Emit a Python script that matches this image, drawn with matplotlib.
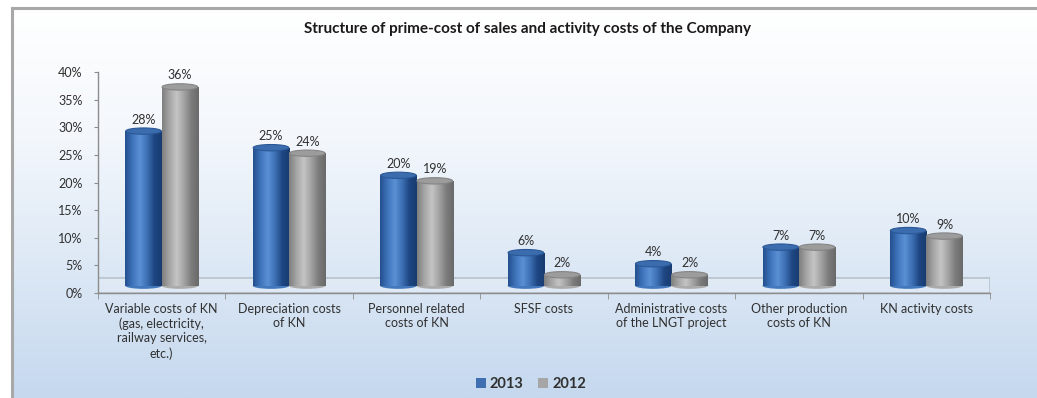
"""Structure of prime-cost of sales and activity costs — cylinder-style bar chart."""
import numpy as np
import matplotlib
matplotlib.use("Agg")
import matplotlib.pyplot as plt
from matplotlib.patches import Ellipse, Rectangle, Patch
from matplotlib.lines import Line2D
from matplotlib.colors import LinearSegmentedColormap

plt.rcParams["font.family"] = ["Lato", "DejaVu Sans"]

# ---------------------------------------------------------------- data
categories = [
    "Variable costs of KN\n(gas, electricity,\nrailway services,\netc.)",
    "Depreciation costs\nof KN",
    "Personnel related\ncosts of KN",
    "SFSF costs",
    "Administrative costs\nof the LNGT project",
    "Other production\ncosts of KN",
    "KN activity costs",
]
series_names = ["2013", "2012"]
values_2013 = [28, 25, 20, 6, 4, 7, 10]
values_2012 = [36, 24, 19, 2, 2, 7, 9]
yticks = [0, 5, 10, 15, 20, 25, 30, 35, 40]

# ---------------------------------------------------------------- style
W, H = 1037, 398
BASE = 1.3          # bars stand on the 3-D floor
FLOOR = 2.7
BAR_W = 0.285
TXT = "#303030"
blue_cmap = LinearSegmentedColormap.from_list(
    "cyl_blue", ["#24508f", "#3f74bb", "#5a90d4", "#3d70b4", "#1e4682", "#193c70"])
gray_cmap = LinearSegmentedColormap.from_list(
    "cyl_gray", ["#7f7f7f", "#a6a6a6", "#c4c4c4", "#a3a3a3", "#7c7c7c", "#6a6a6a"])
top_cols = {"2013": ("#3b6cae", "#2b5896"), "2012": ("#9c9c9c", "#858585")}
legend_cols = {"2013": "#3f6fb0", "2012": "#a6a6a6"}

fig = plt.figure(figsize=(W / 100, H / 100), dpi=100)
fig.patch.set_facecolor("white")

# background gradient inside the frame
bg = fig.add_axes([12 / W, 0, 1 - 12 / W, 1 - 9 / H])
bg.axis("off")
grad = np.linspace(0, 1, 256).reshape(-1, 1)
bg_cmap = LinearSegmentedColormap.from_list("bg", ["#ffffff", "#f3f7fc", "#dce8f5", "#c5d8ee"])
bg.imshow(grad, aspect="auto", cmap=bg_cmap, extent=[0, 1, 0, 1], origin="upper")
bg.set_xlim(0, 1)
bg.set_ylim(0, 1)

# frame lines (left + top)
fig.add_artist(Line2D([11.5 / W, 11.5 / W], [0, 1 - 8 / H], color="#a8a8a8", lw=2.2))
fig.add_artist(Line2D([11.5 / W, 1], [1 - 8 / H, 1 - 8 / H], color="#a8a8a8", lw=2.2))

ax = fig.add_axes([98 / W, 1 - 293 / H, (990 - 98) / W, (293 - 72) / H])
ax.set_facecolor("none")

x = np.arange(len(categories))
# floor of the 3-D plot
ax.add_patch(Rectangle((-0.5, 0), len(categories), FLOOR, facecolor="#e4edf7",
                       edgecolor="#9aa3ad", lw=1.1, alpha=0.6, zorder=1))

grad_h = np.linspace(0, 1, 64).reshape(1, -1)
for i, (name, vals, cmap) in enumerate([("2013", values_2013, blue_cmap),
                                         ("2012", values_2012, gray_cmap)]):
    offs = x - BAR_W / 2 + i * BAR_W
    bars = ax.bar(offs, vals, BAR_W, bottom=BASE, color=legend_cols[name],
                  linewidth=0, zorder=3)
    for b, v in zip(bars, vals):
        x0, w = b.get_x(), b.get_width()
        y0, h = b.get_y(), b.get_height()
        # bottom rounded edge
        ax.add_patch(Ellipse((x0 + w / 2, y0), w, 1.1, facecolor=cmap(0.55), lw=0, zorder=2.5))
        im = ax.imshow(grad_h, cmap=cmap, aspect="auto", extent=[x0, x0 + w, y0, y0 + h],
                       zorder=3.5, interpolation="bilinear")
        im.set_clip_path(b)
        # top cap
        fc, ec = top_cols[name]
        ax.add_patch(Ellipse((x0 + w / 2, y0 + h), w * 0.98, 1.15, facecolor=fc,
                             edgecolor=ec, lw=0.8, zorder=4))
        ax.annotate(f"{v}%", (x0 + w / 2, y0 + h), xytext=(0, 4), textcoords="offset points",
                    ha="center", va="bottom", fontsize=9, color=TXT, zorder=5)

ax.set_xlim(-0.5, len(categories) - 0.5)
ax.set_ylim(0, 40)
ax.set_yticks(yticks)
ax.set_yticklabels([f"{t}%" for t in yticks])
ax.set_xticks(x)
ax.set_xticklabels(categories, fontsize=9, color=TXT, linespacing=1.25)
ax.set_xticks(np.arange(-0.5, len(categories)), minor=True)
ax.tick_params(axis="x", which="major", length=0, pad=7)
ax.tick_params(axis="x", which="minor", length=4, color="#8c8c8c")
ax.tick_params(axis="y", length=3, color="#8c8c8c", labelsize=9, labelcolor=TXT, pad=8)
for s in ("top", "right"):
    ax.spines[s].set_visible(False)
for s in ("left", "bottom"):
    ax.spines[s].set_color("#8c8c8c")
    ax.spines[s].set_linewidth(1.0)

fig.text(528 / W, 1 - 29 / H, "Structure of prime-cost of sales and activity costs of the Company",
         ha="center", va="center", fontsize=11, fontweight="bold", color="#1a1a1a")

handles = [Patch(facecolor=legend_cols[n], edgecolor="none", label=n) for n in series_names]
fig.legend(handles=handles, loc="center", bbox_to_anchor=(531 / W, 1 - 384 / H), ncol=2,
           frameon=False, handlelength=0.65, handleheight=0.65, handletextpad=0.3,
           columnspacing=1.0, prop={"size": 10.5, "weight": "bold"}, labelcolor=TXT)

fig.savefig("out.png", dpi=100)
